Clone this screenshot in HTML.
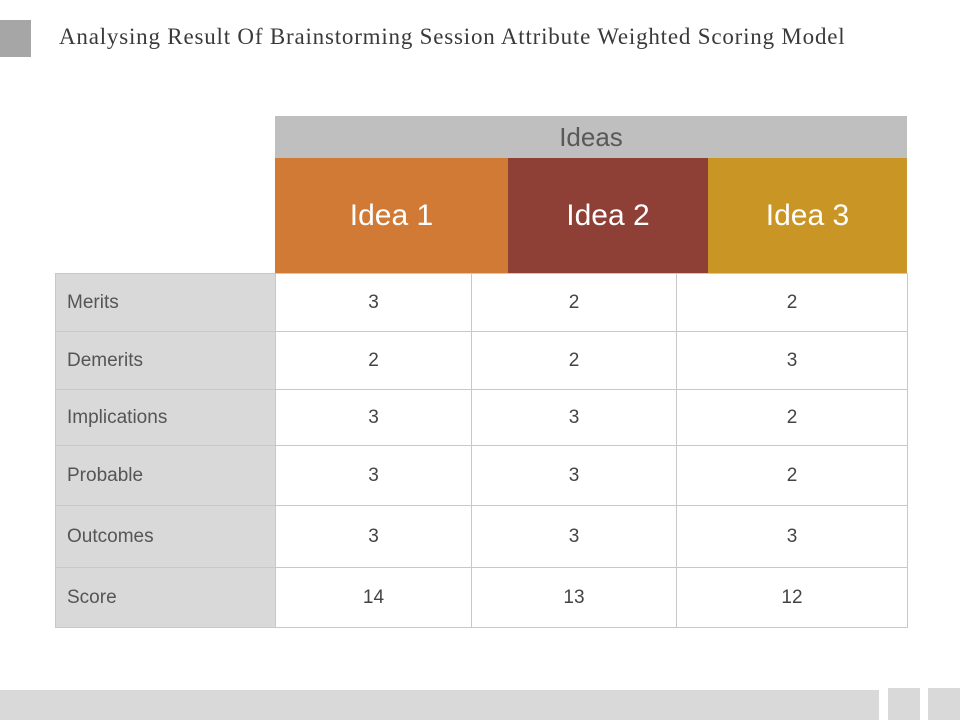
<!DOCTYPE html>
<html><head><meta charset="utf-8">
<style>
body{margin:0;width:960px;height:720px;position:relative;background:#fff;overflow:hidden;font-family:"Liberation Sans",sans-serif}
.a{position:absolute;box-sizing:border-box}
.cell{display:flex;align-items:center;justify-content:center;color:#444;font-size:20px}
</style></head><body>
<div class="a" style="left:0;top:20px;width:31px;height:37px;background:#a6a6a6"></div>
<div class="a" style="left:59px;top:24px;font-family:'Liberation Serif',serif;font-size:23px;letter-spacing:0.8px;color:#3a3a3a;white-space:nowrap">Analysing Result Of Brainstorming Session Attribute Weighted Scoring Model</div>
<div class="a cell" style="left:275px;top:116px;width:632px;height:42px;background:#bfbfbf;color:#595959;font-size:26px">Ideas</div>
<div id="tbl"></div>
<div class="a" style="left:0;top:690px;width:879px;height:30px;background:#d9d9d9"></div>
<div class="a" style="left:888px;top:688px;width:32px;height:32px;background:#d9d9d9"></div>
<div class="a" style="left:928px;top:688px;width:32px;height:32px;background:#d9d9d9"></div>
<script>
const ideas=["Idea 1","Idea 2","Idea 3"];
const ideaColors=["#d07a35","#8e3f36","#c99524"];
const attributes=["Merits","Demerits","Implications","Probable","Outcomes","Score"];
const idea1=[3,2,3,3,3,14];
const idea2=[2,2,3,3,3,13];
const idea3=[2,3,2,2,3,12];
const series=[idea1,idea2,idea3];
const t=document.getElementById('tbl');
const hx=[275,508,708,907];
const cx=[275,471,676,907];
const ry=[273,331,389,445,505,567,627];
function mk(name,l,tp,w,h,css,txt){const d=document.createElement('div');d.className='a cell';


d.style.cssText=`left:${l}px;top:${tp}px;width:${w}px;height:${h}px;`+css;d.textContent=txt;t.appendChild(d);return d;}
ideas.forEach((n,i)=>{mk('idea-header-'+(i+1),hx[i],158,hx[i+1]-hx[i],115,`background:${ideaColors[i]};color:#fff;font-size:30px;`,n);});
attributes.forEach((a,r)=>{
 const top=ry[r],h=ry[r+1]-ry[r];
 mk('row-label-'+a.toLowerCase(),55,top,221,h+1,'background:#d9d9d9;border:1px solid #c8c8c8;justify-content:flex-start;padding-left:11px;color:#555;font-size:19px;',a);
 series.forEach((s,c)=>{mk('cell-'+a.toLowerCase()+'-idea'+(c+1),cx[c],top,cx[c+1]-cx[c]+1,h+1,'background:#fff;border:1px solid #c8c8c8;color:#444;font-size:19px;',s[r]);});
});
</script>
</body></html>
